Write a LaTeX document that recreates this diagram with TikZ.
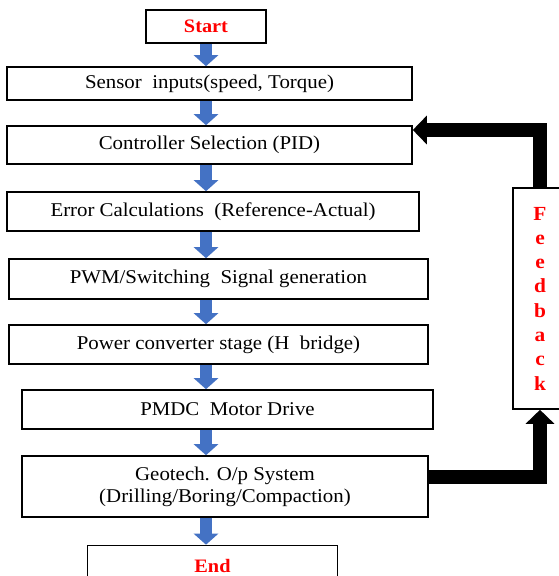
\documentclass[tikz,border=0pt]{standalone}
\usepackage{fontspec}
\setmainfont{Liberation Serif}[FakeStretch=1.07]
\usetikzlibrary{arrows.meta}
\definecolor{flowblue}{HTML}{4472C4}

\begin{document}
\begin{tikzpicture}[
                x=1pt, y=-1pt,
                block/.style={draw, line width=1.6pt, inner sep=0pt, align=center, font=\fontsize{19.5}{22}\selectfont},
                term/.style={block, text=red, font=\fontsize{19}{22}\selectfont\bfseries},
                flow/.style={draw=flowblue, line width=12pt, -{Triangle[width=24pt, length=11pt]}},
                fback/.style={line width=14pt, line join=miter, -{Triangle[width=28pt, length=14pt]}}
            ]
            \useasboundingbox (0, 0) rectangle (558, 576);
            \node[term, minimum width=120pt, minimum height=33pt] (start) at (206, 26.5) {Start};
            \node[block, minimum width=405pt, minimum height=33pt] (sensor) at (209.5, 83.5) {Sensor\ \ inputs(speed, Torque)};
            \node[block, minimum width=405pt, minimum height=38pt] (ctrl) at (209.5, 145) {Controller Selection (PID)};
            \node[block, minimum width=412pt, minimum height=39pt] (err) at (213, 211.5) {Error Calculations\ \ (Reference-Actual)};
            \node[block, minimum width=419pt, minimum height=40pt] (pwm) at (218.5, 279) {PWM/Switching\ \ Signal generation};
            \node[block, minimum width=419pt, minimum height=39pt] (power) at (218.5, 344.5) {Power converter stage (H\ \ bridge)};
            \node[block, minimum width=411pt, minimum height=39pt] (pmdc) at (227.5, 409.5) {PMDC\ \ Motor Drive};
            \node[block, minimum width=406pt, minimum height=61pt] (geo) at (225, 486.5) {Geotech. O/p System\\(Drilling/Boring/Compaction)};
            \node[term, minimum width=250pt, minimum height=40pt] (end) at (212.5, 565.5) {End};
            \node[block, text=red, minimum width=54pt, minimum height=221pt, font=\fontsize{20}{24.3}\selectfont\bfseries] (fb) at (540, 298.5) {F\\e\\e\\d\\b\\a\\c\\k};
            \draw[flow] (start.south) -- (start.south |- sensor.north);
            \draw[flow] (sensor.south -| start) -- (ctrl.north -| start);
            \draw[flow] (ctrl.south -| start) -- (err.north -| start);
            \draw[flow] (err.south -| start) -- (pwm.north -| start);
            \draw[flow] (pwm.south -| start) -- (power.north -| start);
            \draw[flow] (power.south -| start) -- (pmdc.north -| start);
            \draw[flow] (pmdc.south -| start) -- (geo.north -| start);
            \draw[flow] (geo.south -| start) -- (end.north -| start);
            \draw[fback] ([yshift=10pt]geo.east) -| (fb.south);
            \draw[fback] (fb.north) |- ([yshift=15pt]ctrl.east);
        \end{tikzpicture}
\end{document}
